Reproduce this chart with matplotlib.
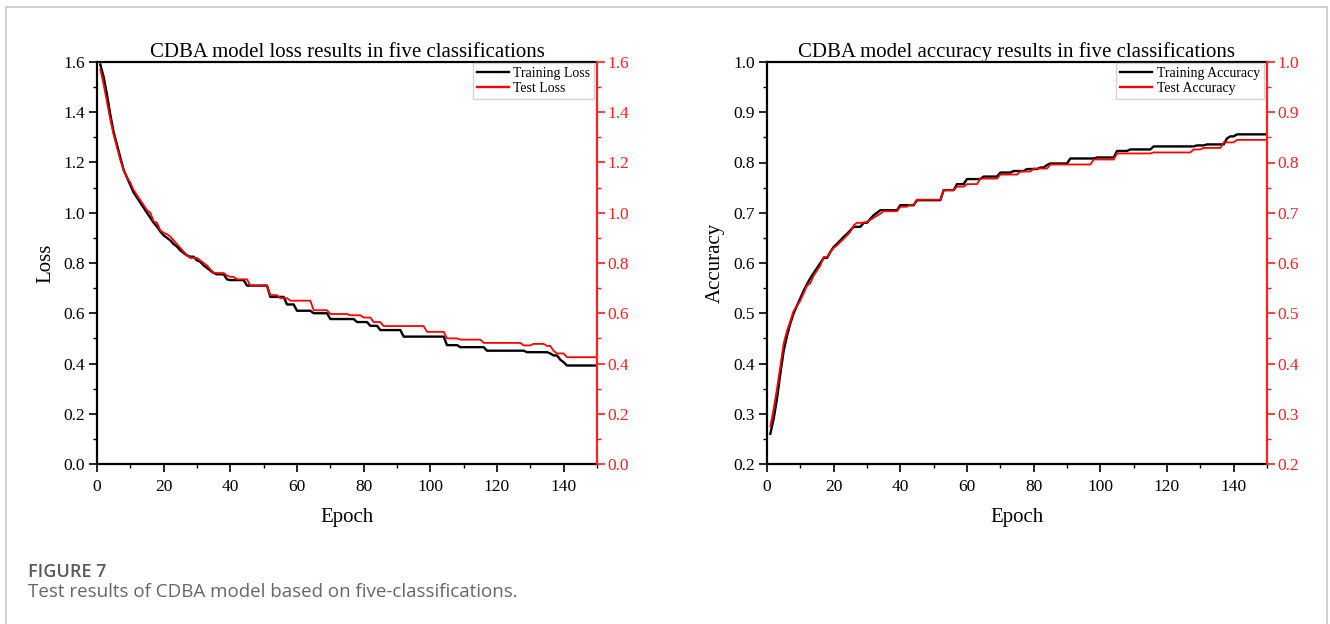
import matplotlib
matplotlib.use("Agg")
import matplotlib.pyplot as plt
from matplotlib.lines import Line2D
from matplotlib.ticker import MultipleLocator

epochs = list(range(1, 151))

train_loss = [
    1.59, 1.54, 1.47, 1.39, 1.32, 1.27, 1.22, 1.17, 1.14, 1.11,
    1.08, 1.06, 1.04, 1.02, 1.00, 0.98, 0.96, 0.945, 0.925, 0.91,
    0.90, 0.89, 0.875, 0.865, 0.85, 0.84, 0.83, 0.825, 0.825, 0.81,
    0.805, 0.79, 0.78, 0.77, 0.76, 0.755, 0.755, 0.755, 0.735, 0.732,
    0.732, 0.732, 0.732, 0.732, 0.71, 0.71, 0.71, 0.71, 0.71, 0.71,
    0.71, 0.665, 0.665, 0.665, 0.665, 0.665, 0.635, 0.635, 0.635, 0.61,
    0.61, 0.61, 0.61, 0.61, 0.60, 0.60, 0.60, 0.60, 0.60, 0.577,
    0.577, 0.577, 0.577, 0.577, 0.577, 0.577, 0.577, 0.565, 0.565, 0.565,
    0.565, 0.55, 0.55, 0.55, 0.533, 0.533, 0.533, 0.533, 0.533, 0.533,
    0.533, 0.507, 0.507, 0.507, 0.507, 0.507, 0.507, 0.507, 0.507, 0.507,
    0.507, 0.507, 0.507, 0.507, 0.473, 0.473, 0.473, 0.473, 0.465, 0.465,
    0.465, 0.465, 0.465, 0.465, 0.465, 0.465, 0.451, 0.451, 0.451, 0.451,
    0.451, 0.451, 0.451, 0.451, 0.451, 0.451, 0.451, 0.451, 0.445, 0.445,
    0.445, 0.445, 0.445, 0.445, 0.445, 0.44, 0.432, 0.432, 0.415, 0.405,
    0.392, 0.392, 0.392, 0.392, 0.392, 0.392, 0.392, 0.392, 0.392, 0.392,
]

test_loss = [
    1.57, 1.51, 1.44, 1.37, 1.31, 1.26, 1.21, 1.17, 1.14, 1.12,
    1.09, 1.07, 1.05, 1.03, 1.01, 1.00, 0.965, 0.96, 0.93, 0.92,
    0.915, 0.905, 0.89, 0.875, 0.86, 0.845, 0.83, 0.82, 0.82, 0.82,
    0.81, 0.80, 0.79, 0.775, 0.76, 0.76, 0.76, 0.76, 0.75, 0.745,
    0.745, 0.735, 0.735, 0.735, 0.735, 0.71, 0.71, 0.71, 0.71, 0.71,
    0.71, 0.672, 0.672, 0.672, 0.66, 0.66, 0.66, 0.65, 0.65, 0.65,
    0.65, 0.65, 0.65, 0.65, 0.612, 0.612, 0.612, 0.612, 0.612, 0.597,
    0.597, 0.597, 0.597, 0.597, 0.597, 0.592, 0.592, 0.592, 0.592, 0.583,
    0.583, 0.583, 0.565, 0.565, 0.565, 0.549, 0.549, 0.549, 0.549, 0.549,
    0.549, 0.549, 0.549, 0.549, 0.549, 0.549, 0.549, 0.549, 0.526, 0.526,
    0.526, 0.526, 0.526, 0.526, 0.50, 0.50, 0.50, 0.50, 0.495, 0.495,
    0.495, 0.495, 0.495, 0.495, 0.495, 0.482, 0.482, 0.482, 0.482, 0.482,
    0.482, 0.482, 0.482, 0.482, 0.482, 0.482, 0.482, 0.472, 0.472, 0.472,
    0.478, 0.478, 0.478, 0.478, 0.47, 0.47, 0.45, 0.44, 0.44, 0.44,
    0.425, 0.425, 0.425, 0.425, 0.425, 0.425, 0.425, 0.425, 0.425, 0.425,
]

train_acc = [
    0.26, 0.29, 0.33, 0.38, 0.425, 0.455, 0.48, 0.50, 0.515, 0.53,
    0.545, 0.558, 0.57, 0.58, 0.59, 0.60, 0.61, 0.61, 0.622, 0.632,
    0.638, 0.645, 0.652, 0.658, 0.665, 0.672, 0.672, 0.672, 0.68, 0.68,
    0.688, 0.695, 0.70, 0.705, 0.705, 0.705, 0.705, 0.705, 0.705, 0.715,
    0.715, 0.715, 0.715, 0.715, 0.725, 0.725, 0.725, 0.725, 0.725, 0.725,
    0.725, 0.725, 0.745, 0.745, 0.745, 0.745, 0.757, 0.757, 0.757, 0.767,
    0.767, 0.767, 0.767, 0.767, 0.772, 0.772, 0.772, 0.772, 0.772, 0.78,
    0.78, 0.78, 0.78, 0.783, 0.783, 0.783, 0.783, 0.787, 0.787, 0.787,
    0.787, 0.79, 0.79, 0.795, 0.798, 0.798, 0.798, 0.798, 0.798, 0.798,
    0.808, 0.808, 0.808, 0.808, 0.808, 0.808, 0.808, 0.808, 0.81, 0.81,
    0.81, 0.81, 0.81, 0.81, 0.823, 0.823, 0.823, 0.823, 0.826, 0.826,
    0.826, 0.826, 0.826, 0.826, 0.826, 0.832, 0.832, 0.832, 0.832, 0.832,
    0.832, 0.832, 0.832, 0.832, 0.832, 0.832, 0.832, 0.832, 0.834, 0.834,
    0.834, 0.836, 0.836, 0.836, 0.836, 0.836, 0.836, 0.848, 0.852, 0.852,
    0.856, 0.856, 0.856, 0.856, 0.856, 0.856, 0.856, 0.856, 0.856, 0.856,
]

test_acc = [
    0.275, 0.31, 0.35, 0.395, 0.44, 0.465, 0.485, 0.505, 0.515, 0.525,
    0.54, 0.555, 0.56, 0.575, 0.585, 0.595, 0.612, 0.612, 0.622, 0.63,
    0.635, 0.642, 0.648, 0.655, 0.662, 0.675, 0.68, 0.68, 0.68, 0.682,
    0.686, 0.69, 0.694, 0.698, 0.703, 0.703, 0.703, 0.703, 0.703, 0.712,
    0.712, 0.712, 0.716, 0.716, 0.726, 0.726, 0.726, 0.726, 0.726, 0.726,
    0.726, 0.726, 0.745, 0.745, 0.745, 0.745, 0.752, 0.752, 0.752, 0.757,
    0.757, 0.757, 0.757, 0.768, 0.768, 0.768, 0.768, 0.768, 0.768, 0.776,
    0.776, 0.776, 0.776, 0.776, 0.776, 0.782, 0.782, 0.782, 0.782, 0.788,
    0.788, 0.788, 0.788, 0.788, 0.796, 0.796, 0.796, 0.796, 0.796, 0.796,
    0.796, 0.796, 0.796, 0.796, 0.796, 0.796, 0.796, 0.806, 0.806, 0.806,
    0.806, 0.806, 0.806, 0.806, 0.818, 0.818, 0.818, 0.818, 0.818, 0.818,
    0.818, 0.818, 0.818, 0.818, 0.818, 0.82, 0.82, 0.82, 0.82, 0.82,
    0.82, 0.82, 0.82, 0.82, 0.82, 0.82, 0.82, 0.826, 0.826, 0.826,
    0.829, 0.829, 0.829, 0.829, 0.829, 0.829, 0.84, 0.84, 0.84, 0.84,
    0.845, 0.845, 0.845, 0.845, 0.845, 0.845, 0.845, 0.845, 0.845, 0.845,
]

titles = ["CDBA model loss results in five classifications",
          "CDBA model accuracy results in five classifications"]
ylabels = ["Loss", "Accuracy"]
legend_labels = [["Training Loss", "Test Loss"],
                 ["Training Accuracy", "Test Accuracy"]]
xlabel = "Epoch"
caption_head = "FIGURE 7"
caption_text = "Test results of CDBA model based on five-classifications."

SERIF = ["Liberation Serif", "DejaVu Serif"]
SANS = ["Open Sans", "DejaVu Sans"]
RED = "#ff2020"

W, H = 1330, 624
fig = plt.figure(figsize=(W / 100, H / 100), dpi=100)
fig.patch.set_facecolor("white")

def fx(px):
    return px / W

def fy(py):
    return 1 - py / H

panels = [
    dict(left=97, right=597, ylim=(0.0, 1.6), major=0.2, minor=0.1,
         series=(train_loss, test_loss)),
    dict(left=767, right=1267, ylim=(0.2, 1.0), major=0.1, minor=0.05,
         series=(train_acc, test_acc)),
]

top_px, bot_px = 62, 464
fmt = plt.FuncFormatter(lambda v, pos: f"{v:.1f}")

for i, p in enumerate(panels):
    ax = fig.add_axes([fx(p["left"]), fy(bot_px), fx(p["right"] - p["left"]),
                       (bot_px - top_px) / H])
    tr, te = p["series"]
    ax.plot(epochs, tr, color="black", lw=1.7, label=legend_labels[i][0], zorder=3)
    ax.plot(epochs, te, color="red", lw=1.3, label=legend_labels[i][1], zorder=4)
    ax.set_xlim(0, 150)
    ax.set_ylim(*p["ylim"])
    ax.xaxis.set_major_locator(MultipleLocator(20))
    ax.xaxis.set_minor_locator(MultipleLocator(10))
    ax.yaxis.set_major_locator(MultipleLocator(p["major"]))
    ax.yaxis.set_minor_locator(MultipleLocator(p["minor"]))
    ax.yaxis.set_major_formatter(fmt)
    for s in ["left", "bottom", "top"]:
        ax.spines[s].set_linewidth(1.6)
        ax.spines[s].set_color("black")
    ax.spines["right"].set_visible(False)
    ax.tick_params(axis="both", which="major", direction="out", length=5.5,
                   width=1.2, labelsize=12.5, top=False, right=False)
    ax.tick_params(axis="both", which="minor", direction="out", length=3,
                   width=1.0, top=False, right=False)
    ax.tick_params(axis="y", pad=3)
    ax.tick_params(axis="x", pad=5)
    for lab in ax.get_xticklabels() + ax.get_yticklabels():
        lab.set_fontfamily(SERIF)

    ax2 = ax.twinx()
    ax2.set_ylim(*p["ylim"])
    ax2.yaxis.set_major_locator(MultipleLocator(p["major"]))
    ax2.yaxis.set_minor_locator(MultipleLocator(p["minor"]))
    ax2.yaxis.set_major_formatter(fmt)
    for s in ["left", "bottom", "top"]:
        ax2.spines[s].set_visible(False)
    ax2.spines["right"].set_color(RED)
    ax2.spines["right"].set_linewidth(1.6)
    ax2.tick_params(axis="y", which="major", direction="out", length=5.5,
                    width=1.2, labelsize=12.5, pad=2, colors=RED)
    ax2.tick_params(axis="y", which="minor", direction="out", length=3,
                    width=1.0, colors=RED)
    for lab in ax2.get_yticklabels():
        lab.set_fontfamily(SERIF)

    ax.set_title(titles[i], fontfamily=SERIF, fontsize=15, pad=3)
    ax.set_xlabel(xlabel, fontfamily=SERIF, fontsize=15, labelpad=10)
    ax.set_ylabel(ylabels[i], fontfamily=SERIF, fontsize=15, labelpad=6)

    leg = ax.legend(loc="upper right", bbox_to_anchor=(0.994, 0.998),
                    borderaxespad=0, prop={"family": SERIF, "size": 10},
                    frameon=True, fancybox=False, handlelength=2.3,
                    handletextpad=0.3, labelspacing=0.12, borderpad=0.3)
    leg.get_frame().set_edgecolor("#c8c8c8")
    leg.get_frame().set_linewidth(1.0)
    for ln in leg.get_lines():
        ln.set_linewidth(1.7)

# page frame
border = "#c8c8c8"
fig.add_artist(Line2D([fx(6), fx(6)], [0, fy(7)], transform=fig.transFigure,
                      color=border, lw=1.2))
fig.add_artist(Line2D([fx(6), fx(1327)], [fy(7), fy(7)], transform=fig.transFigure,
                      color=border, lw=1.2))
fig.add_artist(Line2D([fx(1327), fx(1327)], [0, fy(7)], transform=fig.transFigure,
                      color=border, lw=1.2))

fig.text(fx(28), fy(577), caption_head, fontfamily=SANS,
         fontweight="semibold", fontsize=13, color="#5a5a5a", va="baseline", ha="left")
fig.text(fx(28), fy(597), caption_text, fontfamily=SANS,
         fontsize=13.5, color="#666666", va="baseline", ha="left")

fig.savefig("out.png", dpi=100, facecolor="white")
